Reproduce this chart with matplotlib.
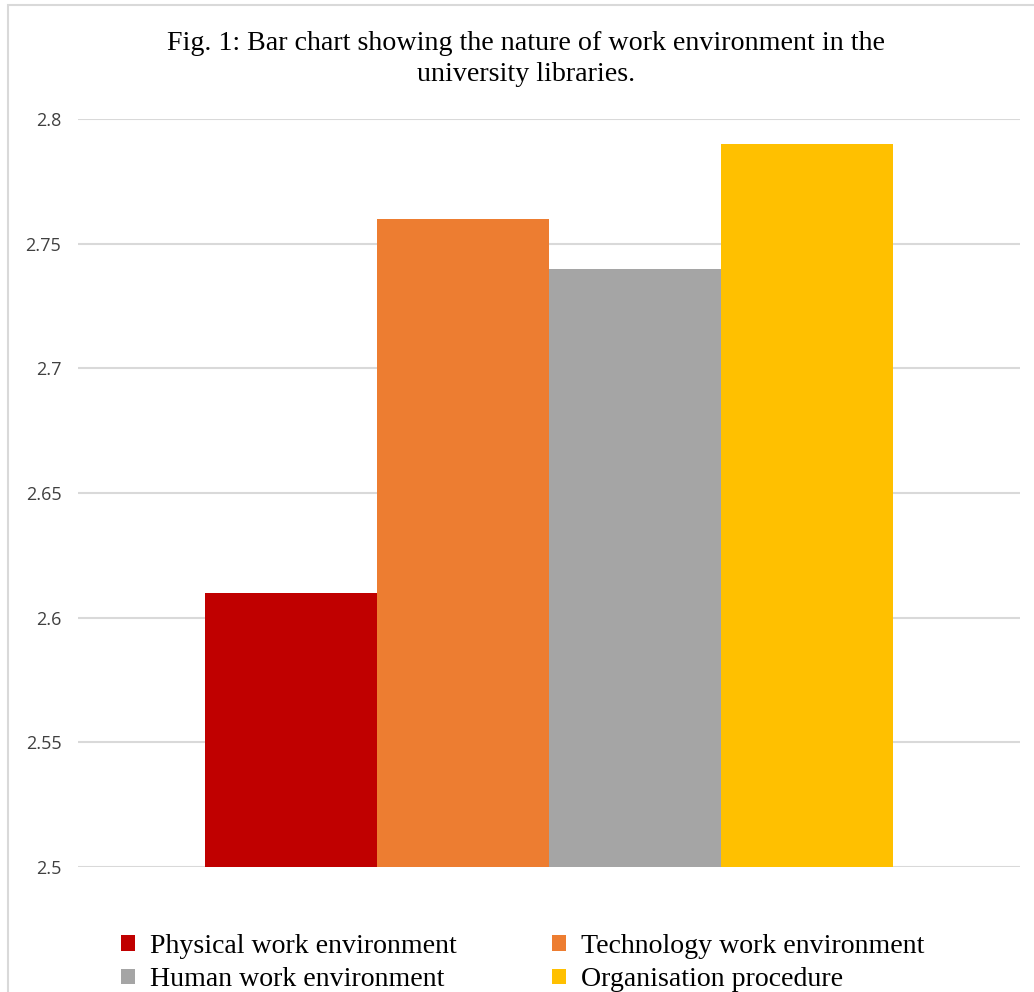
import matplotlib
matplotlib.use('Agg')
import matplotlib.pyplot as plt
from matplotlib.patches import Rectangle

# data
labels = ['Physical work environment', 'Technology work environment',
          'Human work environment', 'Organisation procedure']
values = [2.61, 2.76, 2.74, 2.79]
colors = ['#c00000', '#ed7d31', '#a5a5a5', '#ffc000']
yticks = [2.5, 2.55, 2.6, 2.65, 2.7, 2.75, 2.8]
ytick_labels = ['2.5', '2.55', '2.6', '2.65', '2.7', '2.75', '2.8']
title = 'Fig. 1: Bar chart showing the nature of work environment in the\nuniversity libraries.'

fig = plt.figure(figsize=(10.34, 9.92), dpi=100)

# light frame on the left/top edges (picture is cropped right and bottom)
fig.patches.append(Rectangle((8/1034, -0.05), 1.1, 1 - 5/992 + 0.05,
                             transform=fig.transFigure, fill=False,
                             edgecolor='#d9d9d9', linewidth=1.5))

ax = fig.add_axes([78/1034, 1 - 867/992, 942/1034, 748/992])

handles = []
for i, (lab, val, col) in enumerate(zip(labels, values, colors)):
    h = ax.bar(i, val - 2.5, bottom=2.5, width=1.0, color=col, label=lab, zorder=3)
    handles.append(h)

ax.set_xlim(1.5 - 2.738, 1.5 + 2.738)
ax.set_ylim(2.5, 2.8)
ax.set_yticks(yticks)
ax.set_yticklabels(ytick_labels, fontfamily='Open Sans', fontsize=13, color='#404040')
ax.set_xticks([])
ax.tick_params(axis='y', length=0, pad=12)
ax.grid(axis='y', color='#d9d9d9', linewidth=1.5, zorder=0)
for s in ax.spines.values():
    s.set_visible(False)

fig.text(526/1034, 1 - 59/992, title, ha='center', va='center',
         fontfamily='Liberation Serif', fontsize=20.2, linespacing=1.32)

# legend fills column-wise, so order it to match rows in the original
order = [0, 2, 1, 3]
fig.legend([handles[i] for i in order], [labels[i] for i in order],
           ncol=2, loc='upper left', bbox_to_anchor=(121/1034, 1 - 934/992),
           frameon=False, prop={'family': 'Liberation Serif', 'size': 20.1},
           handlelength=0.5, handleheight=0.5, handletextpad=0.55,
           columnspacing=3.4, labelspacing=0.3, borderaxespad=0, borderpad=0)

fig.savefig('out.png', dpi=100, facecolor='white')
